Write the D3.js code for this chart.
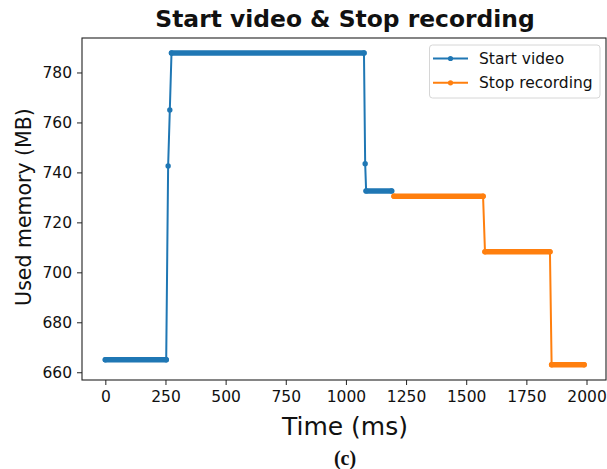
<!DOCTYPE html>
<html>
<head>
<meta charset="utf-8">
<script src="https://cdn.jsdelivr.net/npm/d3@7"></script>
<style>
  html, body { margin: 0; padding: 0; background: #fff; }
  svg { display: block; }
  text { font-family: "DejaVu Sans", sans-serif; fill: #111; }
</style>
</head>
<body>
<svg id="chart" width="607" height="469"></svg>
<script>
// Memory samples (time in ms, used memory in MB)
const startVideoTime = [0, 253, 261, 268, 275, 1075, 1080, 1084, 1190];
const startVideoMem  = [665, 665, 742.6, 765, 787.8, 787.8, 743.5, 732.6, 732.6];
// index pairs where samples are taken so densely that the markers merge into a bar
const startVideoRuns = [[0, 1], [4, 5], [7, 8]];

const stopRecTime = [1200, 1570, 1578, 1848, 1855, 1990];
const stopRecMem  = [730.5, 730.5, 708.2, 708.2, 663, 663];
const stopRecRuns = [[0, 1], [2, 3], [4, 5]];

const xTicks = [0, 250, 500, 750, 1000, 1250, 1500, 1750, 2000];
const yTicks = [660, 680, 700, 720, 740, 760, 780];

const seriesNames = ["Start video", "Stop recording"];
const seriesColors = ["#1f77b4", "#ff7f0e"];

const svg = d3.select("#chart");
const plotLeft = 82, plotRight = 606, plotTop = 38, plotBottom = 380;

const x = d3.scaleLinear().domain([-97, 2081]).range([plotLeft, plotRight]);
const y = d3.scaleLinear().domain([656.9, 793.8]).range([plotBottom, plotTop]);

// axes
const xAxis = d3.axisBottom(x).tickValues(xTicks).tickSize(5).tickPadding(6).tickFormat(d3.format("d"));
const yAxis = d3.axisLeft(y).tickValues(yTicks).tickSize(5).tickPadding(5).tickFormat(d3.format("d"));

const gx = svg.append("g").attr("transform", `translate(0,${plotBottom})`).call(xAxis);
const gy = svg.append("g").attr("transform", `translate(${plotLeft},0)`).call(yAxis);
[gx, gy].forEach(g => {
  g.select(".domain").remove();
  g.selectAll(".tick line").attr("stroke", "#222").attr("stroke-width", 1);
  g.selectAll(".tick text").attr("font-size", 15.5).attr("fill", "#222")
    .style("font-family", "DejaVu Sans, sans-serif");
});

// frame
svg.append("rect")
  .attr("x", plotLeft).attr("y", plotTop)
  .attr("width", plotRight - plotLeft).attr("height", plotBottom - plotTop)
  .attr("fill", "none").attr("stroke", "#222").attr("stroke-width", 1.1);

// series
const series = [
  { t: startVideoTime, m: startVideoMem, runs: startVideoRuns },
  { t: stopRecTime, m: stopRecMem, runs: stopRecRuns }
];
const line = d3.line().x(d => x(d[0])).y(d => y(d[1]));
const plot = svg.append("g");
series.forEach((s, i) => {
  const pts = s.t.map((t, k) => [t, s.m[k]]);
  const g = plot.append("g");
  g.append("path").datum(pts).attr("d", line)
    .attr("fill", "none").attr("stroke", seriesColors[i]).attr("stroke-width", 2);
  g.selectAll("line.run").data(s.runs).join("line")
    .attr("class", "run")
    .attr("x1", r => x(pts[r[0]][0])).attr("y1", r => y(pts[r[0]][1]))
    .attr("x2", r => x(pts[r[1]][0])).attr("y2", r => y(pts[r[1]][1]))
    .attr("stroke", seriesColors[i]).attr("stroke-width", 5.5).attr("stroke-linecap", "round");
  g.selectAll("circle").data(pts).join("circle")
    .attr("cx", d => x(d[0])).attr("cy", d => y(d[1])).attr("r", 2.7)
    .attr("fill", seriesColors[i]);
});

// legend
const lg = svg.append("g");
lg.append("rect").attr("x", 429.5).attr("y", 45).attr("width", 170.5).attr("height", 53)
  .attr("rx", 3).attr("fill", "#fff").attr("fill-opacity", 0.8)
  .attr("stroke", "#d6d6d6").attr("stroke-width", 1);
seriesNames.forEach((name, i) => {
  const ly = 58.5 + i * 24.3;
  lg.append("line").attr("x1", 433).attr("x2", 468).attr("y1", ly).attr("y2", ly)
    .attr("stroke", seriesColors[i]).attr("stroke-width", 2);
  lg.append("circle").attr("cx", 450.5).attr("cy", ly).attr("r", 2.6).attr("fill", seriesColors[i]);
  lg.append("text").attr("x", 479).attr("y", ly + 5.5).attr("font-size", 15.5)
    .attr("fill", "#222").text(name);
});

// titles
svg.append("text").attr("x", 345).attr("y", 27).attr("text-anchor", "middle")
  .attr("font-size", 23.4).attr("font-weight", "bold").text("Start video & Stop recording");
svg.append("text").attr("x", 345).attr("y", 435).attr("text-anchor", "middle")
  .attr("font-size", 25).attr("fill", "#222").text("Time (ms)");
svg.append("text").attr("transform", "translate(31,207) rotate(-90)").attr("text-anchor", "middle")
  .attr("font-size", 20.5).attr("fill", "#222").text("Used memory (MB)");
svg.append("text").attr("x", 345).attr("y", 465).attr("text-anchor", "middle")
  .attr("font-size", 20).attr("font-weight", "bold")
  .style("font-family", "'Liberation Serif', serif").text("(c)");
</script>
</body>
</html>
